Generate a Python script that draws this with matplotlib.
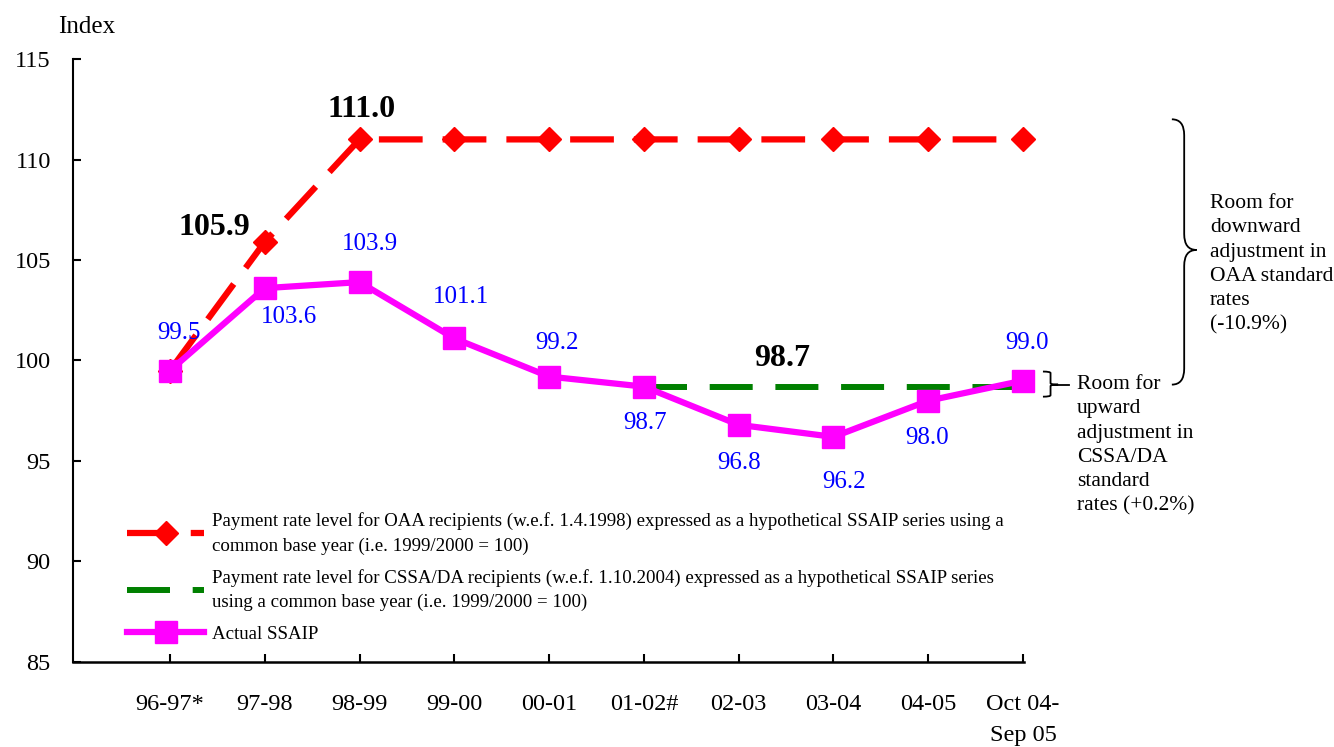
import matplotlib
matplotlib.use('Agg')
from matplotlib import pyplot as plt
from matplotlib.path import Path
from matplotlib.patches import PathPatch
import numpy as np

plt.rcParams['font.family'] = ['Liberation Serif', 'DejaVu Serif']

categories = ['96-97*', '97-98', '98-99', '99-00', '00-01', '01-02#', '02-03', '03-04', '04-05', 'Oct 04-\nSep 05']
ssaip = [99.5, 103.6, 103.9, 101.1, 99.2, 98.7, 96.8, 96.2, 98.0, 99.0]
oaa = [99.5, 105.9, 111.0, 111.0, 111.0, 111.0, 111.0, 111.0, 111.0, 111.0]
cssa_start = 5
cssa = [98.7, 98.7, 98.7, 98.7, 98.7]

oaa_label = 'Payment rate level for OAA recipients (w.e.f. 1.4.1998) expressed as a hypothetical SSAIP series using a\ncommon base year (i.e. 1999/2000 = 100)'
cssa_label = 'Payment rate level for CSSA/DA recipients (w.e.f. 1.10.2004) expressed as a hypothetical SSAIP series\nusing a common base year (i.e. 1999/2000 = 100)'
ssaip_label = 'Actual SSAIP'

# label offsets in pixels (dx, dy) from the point
ssaip_offsets = [(9, 38), (24, -29), (10, 38), (7, 41), (8, 34), (1, -36), (0, -38), (11, -45), (-1, -37), (4, 38)]

W, H = 1334, 747
fig = plt.figure(figsize=(W / 100, H / 100), dpi=100)
ax = fig.add_axes([73 / W, 1 - 662 / H, (1024 - 73) / W, (662 - 59) / H])

x = np.arange(len(categories))
x_c = np.arange(cssa_start, cssa_start + len(cssa))

ax.plot(x, oaa, color='#FF0000', lw=4.5, ls=(0, (7, 3.2)), marker='D', ms=12.5,
        mec='#FF0000', label=oaa_label, zorder=3, clip_on=False)
ax.plot(x_c, cssa, color='#008000', lw=4.3, ls=(0, (7.2, 3.8)), label=cssa_label, zorder=2,
        clip_on=False)
ax.plot(x, ssaip, color='#FF00FF', lw=4.5, marker='s', ms=15.5, mec='#FF00FF',
        label=ssaip_label, zorder=4, clip_on=False)

px = 1 / 1.389
for i, v in enumerate(ssaip):
    dx, dy = ssaip_offsets[i]
    ax.annotate(f'{v:.1f}', (x[i], v), xytext=(dx * px, dy * px), textcoords='offset points',
                ha='center', va='center', color='#0000FF', fontsize=18, zorder=5)

ax.annotate(f'{oaa[1]:.1f}', (x[1], oaa[1]), xytext=(-50 * px, 14 * px), textcoords='offset points',
            ha='center', va='center', fontsize=23, fontweight='bold')
ax.annotate(f'{oaa[2]:.1f}', (x[2], oaa[2]), xytext=(2 * px, 30 * px), textcoords='offset points',
            ha='center', va='center', fontsize=23, fontweight='bold')
ax.annotate(f'{cssa[0]:.1f}', (6.5, cssa[0]), xytext=(-4 * px, 28 * px), textcoords='offset points',
            ha='center', va='center', fontsize=23, fontweight='bold')

ax.set_xlim(-1.023, 9.01)
ax.set_ylim(85, 115)
ax.set_yticks([85, 90, 95, 100, 105, 110, 115])
ax.set_xticks(x)
ax.set_xticklabels(categories)
for t in ax.get_xticklabels():
    t.set_linespacing(1.65)
ax.tick_params(axis='both', direction='in', length=6, width=1.5, labelsize=17.5)
ax.tick_params(axis='y', pad=16)
ax.tick_params(axis='x', pad=23)
ax.spines['top'].set_visible(False)
ax.spines['right'].set_visible(False)
ax.spines['left'].set_linewidth(1.5)
ax.spines['bottom'].set_linewidth(1.8)

fig.text(87 / W, 1 - 27 / H, 'Index', ha='center', va='center', fontsize=18)


def brace(ax, x0, w, y0, y1, ym):
    h = (y1 - y0) * 0.06
    xm = x0 + w / 2
    verts = [(x0, y1), (xm, y1), (xm, y1 - h),
             (xm, ym + h),
             (xm, ym), (x0 + w, ym),
             (xm, ym), (xm, ym - h),
             (xm, y0 + h),
             (xm, y0), (x0, y0)]
    codes = [Path.MOVETO, Path.CURVE3, Path.CURVE3,
             Path.LINETO,
             Path.CURVE3, Path.CURVE3,
             Path.CURVE3, Path.CURVE3,
             Path.LINETO,
             Path.CURVE3, Path.CURVE3]
    ax.add_patch(PathPatch(Path(verts, codes), fill=False, lw=1.3, color='black', clip_on=False))


brace(ax, 10.57, 0.26, 98.8, 112.0, 105.5)
brace(ax, 9.21, 0.16, 98.2, 99.45, 98.8)
ax.plot([9.37, 9.49], [98.8, 98.8], color='black', lw=1.3, clip_on=False)

fig.text(1210 / W, 1 - 194 / H,
         'Room for\ndownward\nadjustment in\nOAA standard\nrates\n(-10.9%)',
         ha='left', va='top', fontsize=15.5, linespacing=1.38)
fig.text(1077 / W, 1 - 375 / H,
         'Room for\nupward\nadjustment in\nCSSA/DA\nstandard\nrates (+0.2%)',
         ha='left', va='top', fontsize=15.5, linespacing=1.38)

leg = fig.legend(loc='upper left', bbox_to_anchor=(127 / W, 1 - 512 / H), frameon=False,
                 fontsize=13.6, handlelength=4.1, handletextpad=0.4, borderpad=0,
                 borderaxespad=0, labelspacing=0.75)
for t in leg.get_texts():
    t.set_linespacing(1.55)

fig.savefig('out.png', dpi=100)
